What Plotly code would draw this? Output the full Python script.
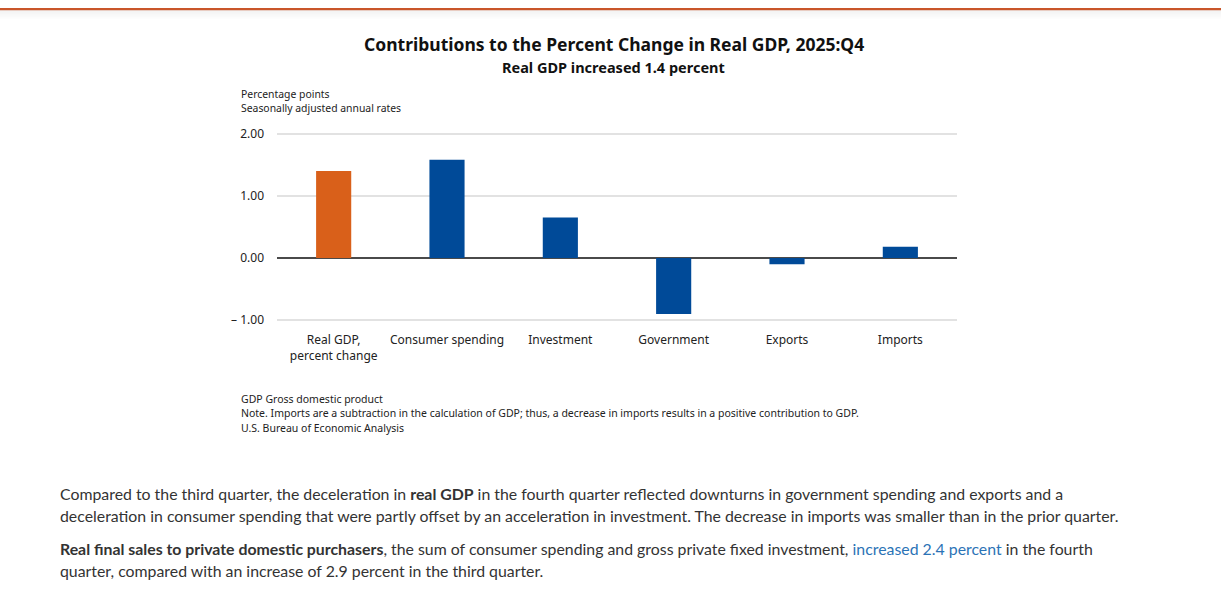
import plotly.graph_objects as go

W, H = 1221, 589
# the photographed page is shifted down 8px and squeezed vertically; compensate
Y_OFF, Y_SCALE = 8.0, 0.977

categories = ["Real GDP,<br>percent change", "Consumer spending", "Investment",
              "Government", "Exports", "Imports"]
values = [1.40, 1.58, 0.65, -0.90, -0.10, 0.18]
bar_colors = ["#D9601A", "#004A98", "#004A98", "#004A98", "#004A98", "#004A98"]
tick_vals = [-1, 0, 1, 2]
tick_text = ["\u2013 1.00", "0.00", "1.00", "2.00"]

title = "Contributions to the Percent Change in Real GDP, 2025:Q4"
subtitle = "Real GDP increased 1.4 percent"
axis_notes = ["Percentage points", "Seasonally adjusted annual rates"]
foot_notes = ["GDP Gross domestic product",
              "Note. Imports are a subtraction in the calculation of GDP; thus, a decrease in imports results in a positive contribution to GDP.",
              "U.S. Bureau of Economic Analysis"]
para_lines = [
    "Compared to the third quarter, the deceleration in <b>real GDP</b> in the fourth quarter reflected downturns in government spending and exports and a",
    "deceleration in consumer spending that were partly offset by an acceleration in investment. The decrease in imports was smaller than in the prior quarter.",
    "<b>Real final sales to private domestic purchasers</b>, the sum of consumer spending and gross private fixed investment, <span style='color:#2B73B6'>increased 2.4 percent</span> in the fourth",
    "quarter, compared with an increase of 2.9 percent in the third quarter.",
]

def px(x):
    return x / W

def py(y):
    return 1 - ((y - Y_OFF) / Y_SCALE) / H

def pyraw(y):
    return 1 - y / H

fig = go.Figure()
fig.add_trace(go.Bar(
    x=categories, y=values, marker=dict(color=bar_colors, line=dict(width=0)),
    width=0.31, hoverinfo="skip"
))

CHART_FONT = "Noto Sans"
ann = []
ann.append(dict(text="<b>" + title + "</b>", x=px(614), y=py(44), xref="paper", yref="paper",
                xanchor="center", yanchor="middle", showarrow=False,
                font=dict(family=CHART_FONT, size=17.5, color="#111")))
ann.append(dict(text="<b>" + subtitle + "</b>", x=px(613), y=py(67), xref="paper", yref="paper",
                xanchor="center", yanchor="middle", showarrow=False,
                font=dict(family=CHART_FONT, size=14.5, color="#111")))
for i, t in enumerate(axis_notes):
    ann.append(dict(text=t, x=px(238.5), y=py(94 + 14.5 * i), xref="paper", yref="paper",
                    xanchor="left", yanchor="middle", showarrow=False,
                    font=dict(family=CHART_FONT, size=10.4, color="#222")))
for i, t in enumerate(foot_notes):
    ann.append(dict(text=t, x=px(238.5), y=py(400 + 14.5 * i), xref="paper", yref="paper",
                    xanchor="left", yanchor="middle", showarrow=False,
                    font=dict(family=CHART_FONT, size=10.5, color="#222")))
para_y = [495, 517, 550, 572]
for t, yy in zip(para_lines, para_y):
    ann.append(dict(text=t, x=px(58), y=py(yy), xref="paper", yref="paper",
                    xanchor="left", yanchor="middle", showarrow=False,
                    font=dict(family="Lato", size=15.85, color="#333")))

shapes = []
# top orange bar and shadow
shapes.append(dict(type="rect", xref="paper", yref="paper", x0=0, x1=1,
                   y0=pyraw(2.2), y1=1, fillcolor="#C9562A", line=dict(width=0), layer="above"))
for k in range(9):
    a = 0.09 * (1 - k / 9)
    shapes.append(dict(type="rect", xref="paper", yref="paper", x0=0, x1=1,
                       y0=pyraw(3.2 + k), y1=pyraw(2.2 + k), fillcolor="rgba(110,110,110,%.3f)" % a,
                       line=dict(width=0), layer="above"))

fig.update_layout(
    width=W, height=H, margin=dict(l=0, r=0, t=0, b=0),
    paper_bgcolor="white", plot_bgcolor="white",
    showlegend=False, bargap=0.69,
    annotations=ann, shapes=shapes,
    xaxis=dict(domain=[px(277), px(957)], showgrid=False, showline=False, ticks="",
               ticklabelstandoff=10,
               tickfont=dict(family=CHART_FONT, size=12, color="#222"), fixedrange=True),
    yaxis=dict(domain=[py(322.25), py(132.75)], range=[-1.02, 2.02],
               tickvals=tick_vals, ticktext=tick_text, showgrid=True,
               gridcolor="#E2E2E2", gridwidth=1.8, zeroline=True, zerolinecolor="#4A4A4A",
               zerolinewidth=1.6, showline=False, ticks="", ticklabelstandoff=12,
               tickfont=dict(family=CHART_FONT, size=12, color="#222"), fixedrange=True),
)

fig.write_html(
    "out.html",
    config={"displayModeBar": False},
    post_script="document.body.style.margin='0';document.body.style.overflow='hidden';"
                "document.documentElement.style.overflow='hidden';",
)
